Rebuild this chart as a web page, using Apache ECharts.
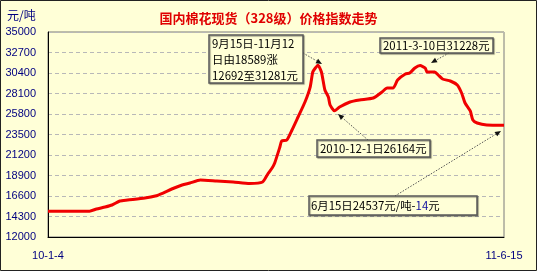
<!DOCTYPE html>
<html>
<head>
<meta charset="utf-8">
<script src="https://cdn.jsdelivr.net/npm/echarts@6/dist/echarts.min.js"></script>
<style>
html,body{margin:0;padding:0;background:#FFFFD7;}
#chart{width:537px;height:271px;}
</style>
</head>
<body>
<div id="chart"></div>
<script>
// ---- data ----
const dates = [
  '2010-01-04','2010-02-21','2010-03-01','2010-03-11','2010-03-19','2010-03-28','2010-04-06','2010-04-26',
  '2010-05-08','2010-05-17','2010-05-27','2010-06-08','2010-06-17','2010-06-29','2010-07-18','2010-08-06',
  '2010-08-25','2010-09-09','2010-09-15','2010-09-20','2010-09-23','2010-09-29','2010-10-01','2010-10-07',
  '2010-10-13','2010-10-20','2010-10-28','2010-11-03','2010-11-06','2010-11-09','2010-11-12','2010-11-16',
  '2010-11-20','2010-11-24','2010-11-26','2010-12-01','2010-12-07','2010-12-19','2010-12-30','2011-01-15',
  '2011-01-25','2011-01-31','2011-02-07','2011-02-12','2011-02-21','2011-02-26','2011-03-04','2011-03-10',
  '2011-03-16','2011-03-18','2011-03-27','2011-03-31','2011-04-05','2011-04-14','2011-04-22','2011-04-27',
  '2011-05-01','2011-05-07','2011-05-10','2011-05-15','2011-05-26','2011-06-15'
];
const prices = [
  14900,14900,15140,15365,15590,16040,16150,16375,
  16600,16936,17385,17834,18058,18395,18283,18170,
  18002,18170,19068,19741,20302,22097,22770,22882,
  24004,25463,27146,28829,30512,30961,31281,30512,
  28493,27707,26810,26164,26585,27146,27371,27595,
  28268,28717,28717,29614,30288,30400,30961,31228,
  30961,30512,30512,30176,29727,29502,29054,28156,
  27034,26137,25127,24790,24566,24537
];
const xTickLabels = ['10-1-4', '11-6-15'];
const startDate = '2010-01-04';
const endDate = '2011-06-15';
const yMin = 12000, yMax = 35000, yStep = 2300;

const titleText = '国内棉花现货（328级）价格指数走势';
const unitText = '元/吨';

function dayOf(s) {
  const p = s.split('-').map(Number);
  const q = startDate.split('-').map(Number);
  return Math.round((Date.UTC(p[0], p[1]-1, p[2]) - Date.UTC(q[0], q[1]-1, q[2])) / 86400000);
}
const spanDays = dayOf(endDate);
const seriesData = dates.map((d, i) => [dayOf(d), prices[i]]);

const BG = '#FFFFD7';
const NAVY = '#000080';
const annFont = '11.4px "Noto Sans CJK SC"';

function arrow(x1, y1, x2, y2) {
  const ang = Math.atan2(y2 - y1, x2 - x1);
  const L = 6, W = 2.6;
  const bx = x2 - L * Math.cos(ang), by = y2 - L * Math.sin(ang);
  const nx = -Math.sin(ang), ny = Math.cos(ang);
  return [
    { type: 'line', silent: true, z: 100,
      shape: { x1: x1, y1: y1, x2: bx, y2: by },
      style: { stroke: '#555', lineWidth: 1, lineDash: [1.5, 1.5] } },
    { type: 'polygon', silent: true, z: 100,
      shape: { points: [[x2, y2], [bx + nx * W, by + ny * W], [bx - nx * W, by - ny * W]] },
      style: { fill: '#111' } }
  ];
}
function box(x, y, w, h) {
  return { type: 'rect', silent: true, z: 100,
    shape: { x: x, y: y, width: w, height: h },
    style: { fill: BG, stroke: '#5a5a5a', lineWidth: 1.5,
      shadowColor: 'rgba(0,0,0,0.35)', shadowOffsetX: 1, shadowOffsetY: 1, shadowBlur: 1 } };
}
function txt(x, y, t, extra) {
  return Object.assign({ type: 'text', silent: true, z: 101,
    style: { x: x, y: y, text: t, font: annFont, fill: '#000', textVerticalAlign: 'middle' } }, extra || {});
}

const chart = echarts.init(document.getElementById('chart'), null, { renderer: 'canvas' });
chart.setOption({
  animation: false,
  backgroundColor: BG,
  title: {
    text: titleText, left: 'center', top: 7,
    textStyle: { color: '#E00000', fontSize: 13, fontWeight: 'bold', fontFamily: 'Noto Sans CJK SC' }
  },
  grid: { left: 48, right: 33, top: 32, bottom: 34, show: true, borderColor: '#7a7a7a', borderWidth: 1 },
  xAxis: {
    type: 'value', min: 0, max: spanDays, interval: spanDays,
    axisLine: { show: true, lineStyle: { color: '#000', width: 1 } },
    axisTick: { show: false },
    splitLine: { show: false },
    axisLabel: {
      margin: 13, color: NAVY, fontSize: 11, fontFamily: 'Liberation Sans',
      showMinLabel: true, showMaxLabel: true,
      formatter: v => (v === 0 ? xTickLabels[0] : xTickLabels[1])
    }
  },
  yAxis: {
    type: 'value', min: yMin, max: yMax, interval: yStep,
    axisLine: { show: true, lineStyle: { color: '#000', width: 1 } },
    axisTick: { show: false },
    splitLine: { show: true, lineStyle: { color: '#B8B8B8', type: [4, 3], width: 1 } },
    axisLabel: { margin: 12, color: NAVY, fontSize: 11, fontFamily: 'Liberation Sans',
      formatter: v => String(Math.round(v)) }
  },
  series: [{
    type: 'line', data: seriesData, showSymbol: false, smooth: 0.2,
    lineStyle: { color: '#F00000', width: 3 }
  }],
  graphic: [
    { type: 'rect', silent: true, z: 200, shape: { x: 0.5, y: 0.5, width: 536, height: 270 },
      style: { fill: 'none', stroke: '#222', lineWidth: 1 } },
    { type: 'text', silent: true, z: 101,
      style: { x: 7, y: 15.5, text: unitText, font: '12px "Noto Sans CJK SC"', fill: NAVY, textVerticalAlign: 'middle' } },

    box(209, 35, 94, 48),
    txt(212, 43.5, '9月15日-11月12'),
    txt(212, 60, '日由18589涨'),
    txt(212, 76, '12692至31281元'),
    ...arrow(303, 53, 322, 64),

    box(380, 38, 113, 15),
    txt(383, 45.5, '2011-3-10日31228元'),
    ...arrow(449, 53, 431, 63),

    box(317, 140, 113, 17),
    txt(320, 148.5, '2010-12-1日26164元'),
    ...arrow(368, 140, 338, 114),

    box(309, 196, 168, 19),
    { type: 'text', silent: true, z: 101,
      style: { x: 311, y: 205.5, textVerticalAlign: 'middle',
        text: '{a|6月15日24537元/吨-}{b|14}{a|元}',
        rich: { a: { font: annFont, fill: '#000' }, b: { font: annFont, fill: '#1010A0' } } } },
    ...arrow(395, 196, 501, 131)
  ]
});
</script>
</body>
</html>
